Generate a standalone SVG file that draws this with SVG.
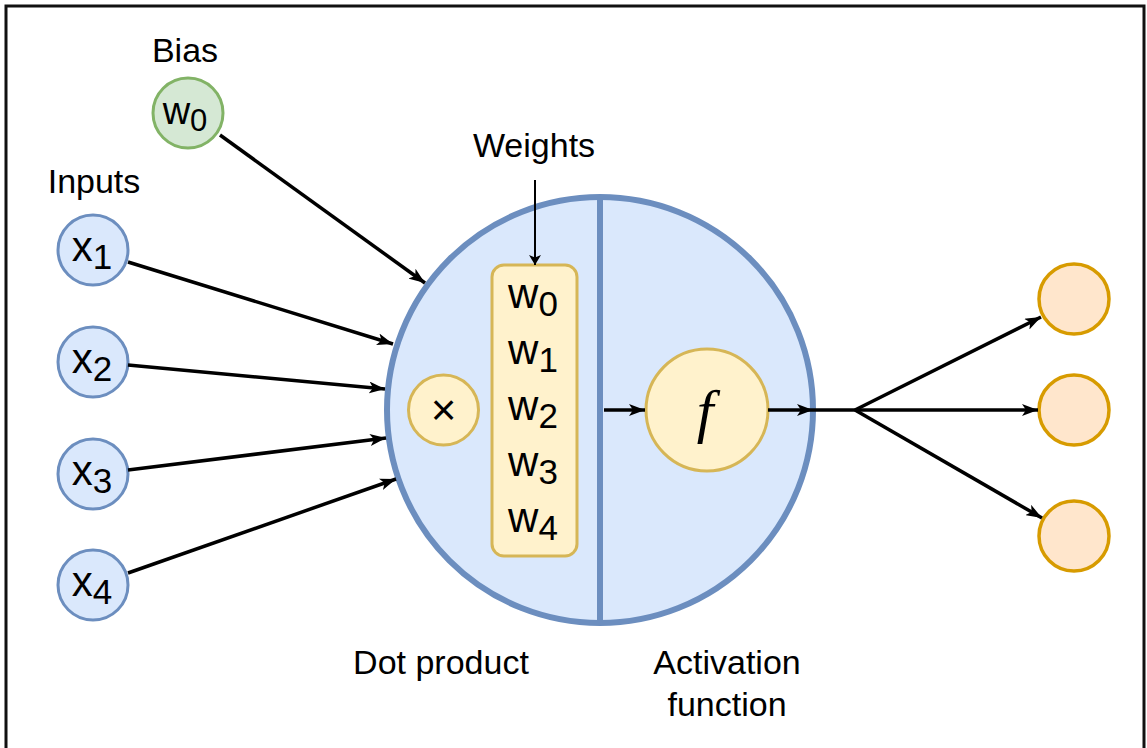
<svg xmlns="http://www.w3.org/2000/svg" width="1147" height="748" viewBox="0 0 1147 748">
<style>
text{font-family:"Liberation Sans",Arial,Helvetica,sans-serif;fill:#000}
.lbl{font-size:34px}
.v{font-size:42px}
.s{font-size:35px}
.inp{fill:#dae8fc;stroke:#6c8ebf;stroke-width:3}
.out{fill:#ffe6cc;stroke:#d79b00;stroke-width:3.5}
.yel{fill:#fff2cc;stroke:#d6b656;stroke-width:3}
.bias{fill:#d5e8d4;stroke:#82b366;stroke-width:3}
.c line{stroke:#000;stroke-width:3.5;fill:none}
.c line.a{marker-end:url(#ah)}
.c line.t{stroke-width:2;marker-end:url(#ahs)}
</style>
<defs>
<marker id="ah" viewBox="0 0 16 12" refX="16" refY="6" markerWidth="16" markerHeight="12" markerUnits="userSpaceOnUse" orient="auto">
<path d="M0,0 L16,6 L0,12 L4,6 z" fill="#000"/>
</marker>
<marker id="ahs" viewBox="0 0 10 12" refX="10" refY="6" markerWidth="10" markerHeight="12" markerUnits="userSpaceOnUse" orient="auto">
<path d="M0,0 L10,6 L0,12 L2.5,6 z" fill="#000"/>
</marker>
</defs>
<rect x="6" y="6" width="1138" height="800" fill="#fff" stroke="#111" stroke-width="3"/>

<g id="neuron">
<circle cx="600" cy="410" r="213" fill="#dae8fc" stroke="#6c8ebf" stroke-width="6"/>
<line x1="600" y1="197" x2="600" y2="623" stroke="#6c8ebf" stroke-width="6"/>
</g>

<g id="label-bias"><text class="lbl" x="185" y="62" text-anchor="middle">Bias</text></g>
<g id="label-inputs"><text class="lbl" x="94" y="193" text-anchor="middle">Inputs</text></g>
<g id="label-weights"><text class="lbl" x="534" y="157" text-anchor="middle">Weights</text></g>
<g id="label-dot"><text class="lbl" x="441" y="674" text-anchor="middle">Dot product</text></g>
<g id="label-act"><text class="lbl" x="727" y="674" text-anchor="middle">Activation</text><text class="lbl" x="727" y="716" text-anchor="middle">function</text></g>

<g id="bias">
<circle class="bias" cx="188" cy="113" r="35"/>
<text x="185" y="124" text-anchor="middle" font-size="38">w<tspan font-size="31" dy="7">0</tspan></text>
</g>

<g id="x1"><circle class="inp" cx="93" cy="250" r="35"/><text class="v" x="92" y="261" text-anchor="middle">x<tspan class="s" dy="8">1</tspan></text></g>
<g id="x2"><circle class="inp" cx="93" cy="362" r="35"/><text class="v" x="92" y="373" text-anchor="middle">x<tspan class="s" dy="8">2</tspan></text></g>
<g id="x3"><circle class="inp" cx="93" cy="474" r="35"/><text class="v" x="92" y="485" text-anchor="middle">x<tspan class="s" dy="8">3</tspan></text></g>
<g id="x4"><circle class="inp" cx="93" cy="585" r="35"/><text class="v" x="92" y="596" text-anchor="middle">x<tspan class="s" dy="8">4</tspan></text></g>

<g id="mult">
<circle class="yel" cx="443.5" cy="410" r="35"/>
<text x="443.5" y="425" text-anchor="middle" font-size="44">×</text>
</g>

<g id="weights">
<rect class="yel" x="492" y="265" width="85" height="291" rx="12" ry="12"/>
<text class="v" x="533" y="308" text-anchor="middle">w<tspan class="s" dy="8">0</tspan></text>
<text class="v" x="533" y="364" text-anchor="middle">w<tspan class="s" dy="8">1</tspan></text>
<text class="v" x="533" y="420" text-anchor="middle">w<tspan class="s" dy="8">2</tspan></text>
<text class="v" x="533" y="476" text-anchor="middle">w<tspan class="s" dy="8">3</tspan></text>
<text class="v" x="533" y="532" text-anchor="middle">w<tspan class="s" dy="8">4</tspan></text>
</g>

<g id="activation">
<circle class="yel" cx="707" cy="410" r="61"/>
<text x="705" y="431" text-anchor="middle" font-style="italic" font-size="60" style="font-family:'Liberation Serif','Times New Roman',serif">f</text>
</g>

<g id="out1"><circle class="out" cx="1074" cy="299" r="35"/></g>
<g id="out2"><circle class="out" cx="1074" cy="410" r="35"/></g>
<g id="out3"><circle class="out" cx="1074" cy="536" r="35"/></g>

<g id="connectors" class="c">
<line class="a" x1="220" y1="135" x2="425" y2="283"/>
<line class="a" x1="128" y1="262" x2="393" y2="344"/>
<line class="a" x1="128" y1="365" x2="385" y2="389"/>
<line class="a" x1="128" y1="470" x2="386" y2="438"/>
<line class="a" x1="128" y1="573" x2="396" y2="479"/>
<line class="t" x1="535" y1="180" x2="535" y2="265"/>
<line class="a" x1="604" y1="410" x2="645" y2="410"/>
<line class="a" x1="768" y1="410" x2="813" y2="410"/>
<line x1="813" y1="410" x2="855" y2="410"/>
<line class="a" x1="855" y1="410" x2="1041" y2="317"/>
<line class="a" x1="855" y1="410" x2="1038" y2="410"/>
<line class="a" x1="855" y1="410" x2="1042" y2="518"/>
</g>
</svg>
